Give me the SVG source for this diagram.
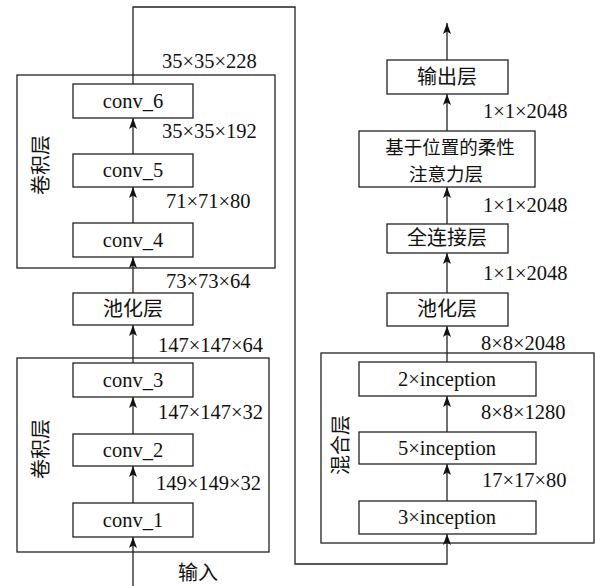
<svg xmlns="http://www.w3.org/2000/svg" width="595" height="586" viewBox="0 0 595 586">
<style>
.box{fill:#fff;stroke:#222;stroke-width:1.3}
.grp{fill:none;stroke:#222;stroke-width:1.3}
.ln{fill:none;stroke:#222;stroke-width:1.3}
.t{font-family:"Liberation Serif","Times New Roman",serif;font-size:20.5px;fill:#111}
.c{font-family:"Noto Sans CJK SC",sans-serif;font-size:20px;fill:#111}
.a{font-size:18.5px}
.m{text-anchor:middle}
</style>
<defs>
<marker id="ah" markerUnits="userSpaceOnUse" markerWidth="11" markerHeight="8" viewBox="0 0 11 8" refX="11" refY="4" orient="auto">
<path d="M0,0 L11,4 L0,8 L2.5,4 Z" fill="#111"/>
</marker>
</defs>
<rect width="595" height="586" fill="#fff"/>
<g id="group-conv-upper"><rect class="grp" x="17" y="75" width="258" height="193"/><text class="c m" transform="translate(41,165) rotate(-90)" y="7">卷积层</text></g>
<g id="group-conv-lower"><rect class="grp" x="17" y="358" width="252" height="194"/><text class="c m" transform="translate(41,449) rotate(-90)" y="7">卷积层</text></g>
<g id="group-mixed"><rect class="grp" x="321" y="353" width="273" height="190"/><text class="c m" transform="translate(341,445) rotate(-90)" y="7">混合层</text></g>
<g id="connectors">
<line class="ln" x1="133" y1="586" x2="133" y2="537" marker-end="url(#ah)"/>
<line class="ln" x1="133" y1="503" x2="133" y2="466" marker-end="url(#ah)"/>
<line class="ln" x1="133" y1="434" x2="133" y2="397" marker-end="url(#ah)"/>
<line class="ln" x1="133" y1="363" x2="133" y2="325" marker-end="url(#ah)"/>
<line class="ln" x1="133" y1="293" x2="133" y2="257" marker-end="url(#ah)"/>
<line class="ln" x1="133" y1="223" x2="133" y2="187" marker-end="url(#ah)"/>
<line class="ln" x1="133" y1="154" x2="133" y2="118" marker-end="url(#ah)"/>
<polyline class="ln" points="133,84 133,7 295,7 295,564 447,564 447,534" marker-end="url(#ah)"/>
<line class="ln" x1="447" y1="501" x2="447" y2="464" marker-end="url(#ah)"/>
<line class="ln" x1="447" y1="432" x2="447" y2="396" marker-end="url(#ah)"/>
<line class="ln" x1="447" y1="362" x2="447" y2="326" marker-end="url(#ah)"/>
<line class="ln" x1="447" y1="293" x2="447" y2="253" marker-end="url(#ah)"/>
<line class="ln" x1="447" y1="224" x2="447" y2="187" marker-end="url(#ah)"/>
<line class="ln" x1="447" y1="131" x2="447" y2="94" marker-end="url(#ah)"/>
<line class="ln" x1="447" y1="60" x2="447" y2="23" marker-end="url(#ah)"/>
</g>
<g id="conv_6"><rect class="box" x="73" y="84" width="120" height="34"/><text class="t m" x="133" y="108">conv_6</text></g>
<g id="conv_5"><rect class="box" x="73" y="154" width="120" height="33"/><text class="t m" x="133" y="177">conv_5</text></g>
<g id="conv_4"><rect class="box" x="73" y="223" width="120" height="34"/><text class="t m" x="133" y="247">conv_4</text></g>
<g id="pool_left"><rect class="box" x="73" y="293" width="120" height="32"/><text class="c m" x="133" y="316">池化层</text></g>
<g id="conv_3"><rect class="box" x="73" y="363" width="120" height="34"/><text class="t m" x="133" y="387">conv_3</text></g>
<g id="conv_2"><rect class="box" x="73" y="434" width="120" height="32"/><text class="t m" x="133" y="457">conv_2</text></g>
<g id="conv_1"><rect class="box" x="73" y="503" width="120" height="34"/><text class="t m" x="133" y="527">conv_1</text></g>
<g id="inc3"><rect class="box" x="359" y="501" width="177" height="33"/><text class="t m" x="447" y="524">3×inception</text></g>
<g id="inc5"><rect class="box" x="359" y="432" width="177" height="32"/><text class="t m" x="447" y="455">5×inception</text></g>
<g id="inc2"><rect class="box" x="359" y="362" width="177" height="34"/><text class="t m" x="447" y="386">2×inception</text></g>
<g id="pool_right"><rect class="box" x="387" y="293" width="121" height="33"/><text class="c m" x="447" y="316">池化层</text></g>
<g id="fc"><rect class="box" x="387" y="224" width="121" height="29"/><text class="c m" x="447" y="245">全连接层</text></g>
<g id="attention"><rect class="box" x="359" y="131" width="176" height="56"/><text class="c a m"><tspan x="450" y="154">基于位置的柔性</tspan><tspan x="446" y="181">注意力层</tspan></text></g>
<g id="output"><rect class="box" x="387" y="60" width="121" height="34"/><text class="c m" x="447" y="84">输出层</text></g>
<g id="labels">
<text class="t" x="162" y="68">35×35×228</text>
<text class="t" x="162" y="138">35×35×192</text>
<text class="t" x="166" y="208">71×71×80</text>
<text class="t" x="166" y="288">73×73×64</text>
<text class="t" x="158" y="352">147×147×64</text>
<text class="t" x="158" y="419">147×147×32</text>
<text class="t" x="156" y="490">149×149×32</text>
<text class="c" x="178" y="580">输入</text>
<text class="t" x="483" y="118">1×1×2048</text>
<text class="t" x="483" y="212">1×1×2048</text>
<text class="t" x="483" y="280">1×1×2048</text>
<text class="t" x="481" y="350">8×8×2048</text>
<text class="t" x="481" y="419">8×8×1280</text>
<text class="t" x="482" y="487">17×17×80</text>
</g>
</svg>
